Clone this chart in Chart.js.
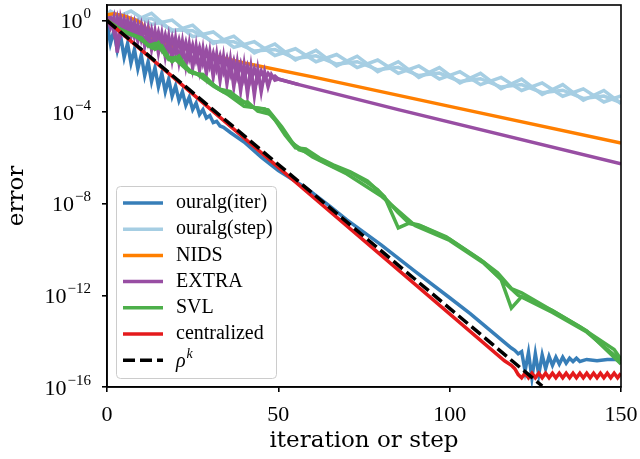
<!DOCTYPE html>
<html>
<head>
<meta charset="utf-8">
<script src="https://cdn.jsdelivr.net/npm/chart.js@4.4.1/dist/chart.umd.min.js"></script>
<style>
  html, body { margin: 0; padding: 0; background: #fff; }
</style>
</head>
<body>
<canvas id="myChart" width="640" height="459"></canvas>
<script>
// values (error, log axis)
const iterX = [0,1,2,3,4,5,6,7,8,9,10,11,12,13,14,15,16,17,18,19,20,21,22,23,24,25,26,27,28,29,30,31,32,33,34,
  36,40,45,50,58,65,70,80,90,100,106,112,116,118,119,120,
  121,122,123,124,125,126,127,128,129,130,131,132,133,134,135,136,137,138,140,143,146,150]
const iterErr = [7.9e-1,1e-1,3.5e-1,5.0e-2,2.0e-1,2.5e-2,1.0e-1,1.4e-2,5.6e-2,7.9e-3,3.2e-2,4.0e-3,1.6e-2,2.2e-3,8.9e-3,1.3e-3,5.0e-3,7.9e-4,2.8e-3,5.0e-4,
  1.4e-3,3.2e-4,7.9e-4,2.0e-4,4.5e-4,1.3e-4,2.5e-4,7.9e-5,1.3e-4,5.6e-5,7.1e-5,3.5e-5,4.0e-5,2.5e-5,2.2e-5,
  1.3e-5,5.0e-6,1.1e-6,2.8e-7,5.0e-8,7.9e-9,2.0e-9,1.6e-10,1.1e-11,7.9e-13,1.6e-13,2.8e-14,8.9e-15,5.0e-15,4.0e-15,2.8e-15,
  3.5e-15,5.0e-16,3.2e-15,2.5e-16,2.8e-15,3.5e-16,2.5e-15,6.3e-16,2.2e-15,8.9e-16,2.0e-15,1.0e-15,2.0e-15,1.1e-15,1.8e-15,1.3e-15,1.8e-15,1.3e-15,
  1.6e-15,1.4e-15,1.6e-15,1.6e-15]

const stepX = [0,1,7,13,19,25,31,37,43,49,55,61,67,73,79,85,91,97,103,109,115,121,127,133,139,145,150]
const stepErrA = [1.8,2.6,0.83,2.1,0.33,0.63,0.1,0.21,0.039,0.095,0.019,0.05,1.05e-2,0.028,5.9e-3,1.6e-2,3.3e-3,8.9e-3,1.9e-3,5.0e-3,1.05e-3,2.8e-3,5.9e-4,1.6e-3,3.3e-4,8.9e-4,2.4e-4]
const stepErrB = [1.8,1.07,2.6,0.68,1.05,0.2,0.32,0.068,0.12,0.03,0.059,0.016,0.033,8.9e-3,1.9e-2,5.0e-3,1.05e-2,2.8e-3,5.9e-3,1.6e-3,3.3e-3,8.9e-4,1.9e-3,5.0e-4,1.05e-3,2.8e-4,5.2e-4]
const stepErrC = [1.8,1.95,1.0,1.23,0.4,0.36,0.12,0.12,0.047,0.055,0.022,0.029,1.26e-2,1.6e-2,7.1e-3,9.1e-3,4.0e-3,5.1e-3,2.2e-3,2.9e-3,1.26e-3,1.6e-3,7.1e-4,9.1e-4,4.0e-4,5.1e-4,2.6e-4]

const nidsX = [0,2,5,8,10,11,12,13,14,15,16,17,18,19,20,22,25,30,40,60,100,150]
const nidsErr = [1.8,2.0,1.6,1.1,0.79,0.32,0.5,0.14,0.28,0.11,0.18,0.079,0.13,0.063,0.089,0.063,0.05,0.032,0.014,3.5e-3,1.8e-4,4.5e-6]

const extraX = [0,1,2,3,4,5,6,7,8,9,10,11,12,13,14,15,16,17,18,19,20,21,22,23,24,25,26,27,28,29,30,
  31,32,33,34,35,36,37,38,39,40,41,42,43,44,45,46,47,48,49,50,56,85,150]
const extraErr = [1.26,0.5,1.41,0.04,1.26,0.32,1.0,0.2,0.79,0.13,0.6,0.079,0.45,0.056,0.34,0.04,0.26,0.028,0.2,0.02,0.16,
  0.016,0.12,0.011,0.093,8.9e-3,0.074,7.1e-3,0.056,5.0e-3,0.042,3.5e-3,0.032,2.5e-3,0.025,1.8e-3,0.019,1.3e-3,0.014,8.9e-4,0.011,
  6.3e-4,8.9e-3,5.6e-4,7.1e-3,7.9e-4,5.6e-3,1.3e-3,4.3e-3,2.5e-3,2.8e-3,1.6e-3,1.3e-4,5.6e-7]
const extraX2 = [0,1,2,3,4,5,6,7,8,9,10,11,12,13,14,15,16,17,18,19,20,21,22,23,24,25,26,27,28,29,30,
  31,32,33,34,35,36,37,38,39,40,41,42,43,44,45,46,47,48,49,50,56]
const extraErr2 = [1.26,1.35,0.32,1.32,0.28,1.12,0.25,0.89,0.2,0.69,0.15,0.52,0.11,0.39,0.085,0.3,0.066,0.23,0.05,0.18,0.04,
  0.14,0.03,0.11,0.023,0.083,0.019,0.065,0.014,0.049,0.0105,0.036,7.9e-3,0.028,6.3e-3,0.022,4.8e-3,0.017,3.5e-3,0.0126,2.8e-3,
  0.01,2.5e-3,7.9e-3,2.5e-3,6.3e-3,2.8e-3,5.0e-3,3.2e-3,3.8e-3,2.8e-3,1.6e-3]

const svlX1 = [0,2,5,9,11,13,15,17,19,21,24,27,29,32,34,37,42,47,51,54,56,59,62,66,71,76,79,85,88,91,99,109,114,118,121,128,138,148,150]
const svlErr1 = [1.0,0.6,0.33,0.19,0.12,0.065,0.11,0.032,0.016,0.028,5.8e-3,4.3e-3,3.2e-3,1.15e-3,7.8e-4,5.8e-4,1.7e-4,1.26e-4,2.3e-5,5.0e-6,
  2.3e-6,1.7e-6,8.3e-7,4.2e-7,2.3e-7,8.3e-8,4.1e-8,4.1e-9,1.5e-9,1.2e-9,3.6e-10,3.6e-11,9.8e-12,2.0e-12,1.3e-12,3.2e-13,4.3e-14,4.3e-15,1.6e-15]
const svlX2 = [0,3,6,10,12,14,16,18,20,22,25,28,30,33,36,39,41,44,48,52,55,58,62,66,71,76,81,85,88,92,100,110,115,118,121,130,140,150]
const svlErr2 = [1.05,0.5,0.28,0.18,0.079,0.1,0.05,0.02,0.025,0.014,5.0e-3,4.5e-3,2.0e-3,1.0e-3,7.9e-4,2.5e-4,2.8e-4,1.1e-4,7.9e-5,1.0e-5,
  2.8e-6,2.5e-6,1.0e-6,5.0e-7,2.5e-7,1.0e-7,2.0e-8,8.9e-10,1.4e-9,1.0e-9,2.8e-10,2.8e-11,5.0e-12,2.8e-13,8.9e-13,2.2e-13,2.8e-14,1.0e-15]
const svlX3 = [0,4,8,12,14,16,18,20,23,26,31,35,40,46,50,54,60,70,80,90,100,110,120,130,140,150]
const svlErr3 = [1.0,0.4,0.22,0.089,0.056,0.079,0.025,0.02,7.9e-3,5.0e-3,1.4e-3,6.3e-4,1.8e-4,1.4e-4,3.2e-5,4.5e-6,1.1e-6,2.0e-7,2.2e-8,1.1e-9,
  2.5e-10,2.5e-11,1.0e-12,1.8e-13,2.5e-14,1.4e-15]

const centralX = [0,116,118,119,120,121,122,123,124,125,126,127,128,129,130,131,132,133,134,135,136,137,138,139,140,141,142,143,144,145,146,147,148,149,150]
const centralErr = [1.0,1.4e-15,8.9e-16,6.3e-16,3.5e-16,
  2.5e-16,4.0e-16,2.5e-16,4.0e-16,2.5e-16,4.0e-16,2.5e-16,4.0e-16,2.5e-16,4.0e-16,
  2.5e-16,4.0e-16,2.5e-16,4.0e-16,2.5e-16,4.0e-16,2.5e-16,4.0e-16,2.5e-16,4.0e-16,
  2.5e-16,4.0e-16,2.5e-16,4.0e-16,2.5e-16,4.0e-16,2.5e-16,4.0e-16,2.5e-16,4.0e-16]

const rhoX = [0,127]
const rhoErr = [1.0,1.1e-16]

const yTicks = [1, 1e-4, 1e-8, 1e-12, 1e-16]
const yTickBase = '10'
const yTickExp = ['0', '−4', '−8', '−12', '−16']
const xTicks = [0, 50, 100, 150]

const legendNames = ['ouralg(iter)', 'ouralg(step)', 'NIDS', 'EXTRA', 'SVL', 'centralized', 'ρ']
const legendColors = ['#377eb8', '#a6cee3', '#ff7f00', '#984ea3', '#4daf4a', '#e41a1c', '#000000']

function pts(xs, ys) {
  return xs.map((x, i) => ({ x: x, y: ys[i] }))
}

function line(label, xs, ys, color, order, dash) {
  return {
    label: label,
    data: pts(xs, ys),
    borderColor: color,
    backgroundColor: color,
    borderWidth: 3.5,
    borderDash: dash || [],
    pointRadius: 0,
    tension: 0,
    fill: false,
    order: order
  }
}

const datasets = [
  line('ouralg(iter)', iterX, iterErr, legendColors[0], 10),
  line('ouralg(step)', stepX, stepErrA, legendColors[1], 9),
  line('ouralg(step)', stepX, stepErrB, legendColors[1], 9),
  line('ouralg(step)', stepX, stepErrC, legendColors[1], 9),
  line('NIDS', nidsX, nidsErr, legendColors[2], 8),
  line('EXTRA', extraX, extraErr, legendColors[3], 7),
  line('EXTRA', extraX2, extraErr2, legendColors[3], 7),
  line('SVL', svlX1, svlErr1, legendColors[4], 6),
  line('SVL', svlX2, svlErr2, legendColors[4], 6),
  line('SVL', svlX3, svlErr3, legendColors[4], 6),
  line('centralized', centralX, centralErr, legendColors[5], 5),
  line('ρ^k', rhoX, rhoErr, legendColors[6], 4, [12, 5])
]

// black frame round the plot
const frame = {
  id: 'frame',
  afterDatasetsDraw(chart) {
    const a = chart.chartArea
    const ctx = chart.ctx
    ctx.save()
    ctx.strokeStyle = '#000'
    ctx.lineWidth = 1.6
    ctx.strokeRect(a.left, a.top, a.right - a.left, a.bottom - a.top)
    ctx.restore()
  }
}

// y tick labels as 10 with a raised exponent
const powerLabels = {
  id: 'powerLabels',
  afterDraw(chart) {
    const ctx = chart.ctx
    const y = chart.scales.y
    ctx.save()
    ctx.fillStyle = '#000'
    ctx.textBaseline = 'alphabetic'
    ctx.textAlign = 'left'
    for (let i = 0; i < yTicks.length; i++) {
      let py = y.getPixelForValue(yTicks[i])
      ctx.font = '15px "Liberation Serif"'
      let ew = ctx.measureText(yTickExp[i]).width
      ctx.font = '22px "Liberation Serif"'
      let bw = ctx.measureText(yTickBase).width
      let x0 = 91 - ew - bw - 1
      ctx.fillText(yTickBase, x0, py + 7.5)
      ctx.font = '15px "Liberation Serif"'
      ctx.fillText(yTickExp[i], x0 + bw + 1, py - 2.5)
    }
    ctx.restore()
  }
}

// legend in the lower left of the plot
const legendBox = {
  id: 'legendBox',
  afterDraw(chart) {
    const ctx = chart.ctx
    ctx.save()
    ctx.beginPath()
    ctx.roundRect(116.5, 186.5, 160, 192, 4)
    ctx.fillStyle = 'rgba(255,255,255,0.8)'
    ctx.fill()
    ctx.strokeStyle = '#cccccc'
    ctx.lineWidth = 1
    ctx.stroke()
    for (let i = 0; i < legendNames.length; i++) {
      let y = 203 + i * 26.2
      ctx.beginPath()
      ctx.setLineDash(i == 6 ? [12, 5] : [])
      ctx.moveTo(123, y)
      ctx.lineTo(163, y)
      ctx.strokeStyle = legendColors[i]
      ctx.lineWidth = 3.5
      ctx.stroke()
      ctx.setLineDash([])
      ctx.fillStyle = '#000'
      ctx.textBaseline = 'middle'
      ctx.textAlign = 'left'
      if (i == 6) {
        ctx.font = 'italic 20px "Liberation Serif"'
        ctx.fillText(legendNames[i], 176, y + 2)
        let w = ctx.measureText(legendNames[i]).width
        ctx.font = 'italic 14px "Liberation Serif"'
        ctx.fillText('k', 177 + w, y - 6)
      } else {
        ctx.font = '20px "Liberation Serif"'
        ctx.fillText(legendNames[i], 176, y)
      }
    }
    ctx.restore()
  }
}

const ctx = document.getElementById('myChart')
new Chart(ctx, {
  type: 'line',
  data: { datasets: datasets },
  options: {
    responsive: false,
    animation: false,
    devicePixelRatio: 1,
    layout: { padding: { top: 5, right: 19, left: 0, bottom: 0 } },
    plugins: {
      legend: { display: false },
      tooltip: { enabled: false }
    },
    scales: {
      x: {
        type: 'linear',
        min: 0,
        max: 150,
        afterBuildTicks: (scale) => { scale.ticks = xTicks.map(v => ({ value: v })) },
        afterFit: (scale) => {
          scale.height = 72
          scale.paddingLeft = 0
          scale.paddingRight = 0
        },
        ticks: {
          color: '#000',
          padding: 10,
          maxRotation: 0,
          font: { family: '"Liberation Serif"', size: 22 }
        },
        grid: { drawOnChartArea: false, drawTicks: true, tickLength: 5, color: '#000', lineWidth: 1.6 },
        border: { display: true, color: '#000', width: 1.6 },
        title: {
          display: true,
          text: 'iteration or step',
          color: '#000',
          font: { family: '"DejaVu Serif"', size: 23 },
          padding: { bottom: 4 }
        }
      },
      y: {
        type: 'logarithmic',
        min: 1e-16,
        max: 4.8,
        bounds: 'data',
        afterBuildTicks: (scale) => { scale.ticks = yTicks.map(v => ({ value: v })) },
        afterFit: (scale) => {
          scale.width = 107
          scale.paddingTop = 0
          scale.paddingBottom = 0
        },
        ticks: { display: false },
        grid: { drawOnChartArea: false, drawTicks: true, tickLength: 5, color: '#000', lineWidth: 1.6 },
        border: { display: true, color: '#000', width: 1.6 },
        title: {
          display: true,
          text: 'error',
          color: '#000',
          font: { family: '"DejaVu Serif"', size: 23 },
          padding: { top: 3 }
        }
      }
    }
  },
  plugins: [frame, powerLabels, legendBox]
})
</script>
</body>
</html>
